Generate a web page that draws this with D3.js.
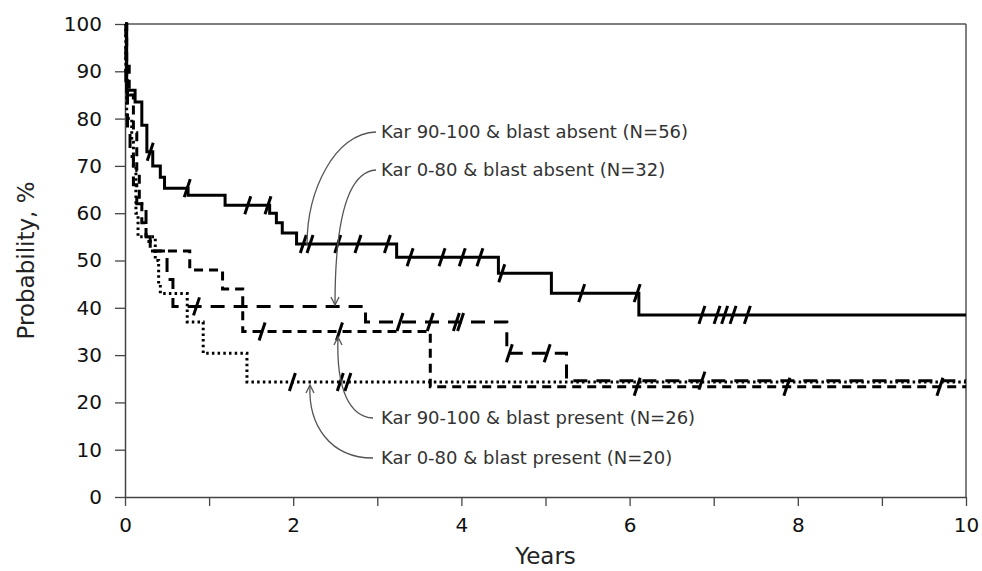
<!DOCTYPE html>
<html>
<head>
<meta charset="utf-8">
<script src="https://cdn.jsdelivr.net/npm/d3@7/dist/d3.min.js"></script>
<style>
html,body{margin:0;padding:0;background:#fff;}
svg{display:block;}
</style>
</head>
<body>
<svg id="chart" width="982" height="571"></svg>
<script>
// ---- data ----
const xTicks = [0,1,2,3,4,5,6,7,8,9,10];
const xTickLabels = ["0","","2","","4","","6","","8","","10"];
const yTicks = [0,10,20,30,40,50,60,70,80,90,100];

// Kar 90-100 & blast absent (N=56) - solid
const s1Times = [0, 0.02, 0.12, 0.2, 0.26, 0.33, 0.42, 0.47, 0.75, 1.19, 1.72, 1.8, 1.87, 2.04, 3.23, 4.44, 5.07, 6.11];
const s1Surv  = [100, 86, 83.5, 78.6, 73, 70, 67.6, 65.3, 63.8, 61.7, 60, 58, 55.8, 53.5, 50.7, 47.3, 43.1, 38.5];
const s1Cens  = [0.3, 0.74, 1.46, 1.7, 2.12, 2.2, 2.53, 2.77, 3.12, 3.39, 3.77, 4.01, 4.22, 4.48, 5.43, 6.09, 6.86, 7.04, 7.13, 7.23, 7.4];

// Kar 0-80 & blast absent (N=32) - long dash
const s2Times = [0, 0.01, 0.03, 0.06, 0.1, 0.14, 0.25, 0.3, 0.5, 0.57, 2.86, 4.54, 5.25];
const s2Surv  = [100, 88, 78, 72, 66, 62, 55, 52, 46, 40.3, 37.0, 30.4, 24.6];
const s2Cens  = [0.85, 3.27, 3.63, 3.94, 3.99, 4.57, 5.02, 6.86];

// Kar 90-100 & blast present (N=26) - dash
const s3Times = [0, 0.02, 0.05, 0.1, 0.14, 0.17, 0.2, 0.25, 0.3, 0.77, 1.16, 1.4, 3.63];
const s3Surv  = [100, 92, 85, 77, 69, 62, 58, 54, 52, 48, 44, 35, 23.3];
const s3Cens  = [1.63, 2.55, 6.09, 7.87, 9.69];

// Kar 0-80 & blast present (N=20) - dotted
const s4Times = [0, 0.01, 0.02, 0.08, 0.1, 0.13, 0.155, 0.36, 0.4, 0.42, 0.74, 0.93, 1.45];
const s4Surv  = [100, 90, 80, 75, 70, 60, 55, 50, 45, 43, 37, 30.4, 24.3];
const s4Cens  = [1.99, 2.56, 2.65];

const seriesNames = [
  "Kar 90-100 & blast absent (N=56)",
  "Kar 0-80 & blast absent (N=32)",
  "Kar 90-100 & blast present (N=26)",
  "Kar 0-80 & blast present (N=20)"
];

// ---- layout ----
const svg = d3.select("#chart");
const x = d3.scaleLinear().domain([0,10]).range([125,966]);
const y = d3.scaleLinear().domain([0,100]).range([497,24]);
const font = "'DejaVu Sans', Verdana, sans-serif";

// frame (top & right)
svg.append("line").attr("x1",x(0)).attr("x2",x(10)).attr("y1",y(100)).attr("y2",y(100))
  .attr("stroke","#555").attr("stroke-width",1.5);
svg.append("line").attr("x1",x(10)).attr("x2",x(10)).attr("y1",y(100)).attr("y2",y(0))
  .attr("stroke","#555").attr("stroke-width",1.5);

// axes
const xAxis = d3.axisBottom(x).tickValues(xTicks).tickSize(9).tickSizeOuter(0)
  .tickFormat((d,i)=>xTickLabels[i]);
const gx = svg.append("g").attr("transform",`translate(0,${y(0)})`).call(xAxis);
const yAxis = d3.axisLeft(y).tickValues(yTicks).tickSize(10).tickSizeOuter(0);
const gy = svg.append("g").attr("transform",`translate(${x(0)},0)`).call(yAxis);
[gx,gy].forEach(g=>{
  g.select(".domain").attr("stroke","#444").attr("stroke-width",1.5);
  g.selectAll(".tick line").attr("stroke","#444").attr("stroke-width",1.3);
  g.selectAll(".tick text").attr("fill","#111").style("font-family",font).style("font-size","20px");
});
gx.selectAll(".tick text").attr("dy","1.15em");
gy.selectAll(".tick text").attr("dx","-0.5em");

svg.append("text").attr("x",(x(0)+x(10))/2).attr("y",564).attr("text-anchor","middle")
  .style("font-family",font).style("font-size","23px").attr("fill","#222").text("Years");
svg.append("text").attr("transform",`translate(34,${(y(0)+y(100))/2}) rotate(-90)`)
  .attr("text-anchor","middle").style("font-family",font).style("font-size","23px")
  .attr("fill","#222").text("Probability, %");

// curves
function stepData(times, surv){
  const pts = times.map((t,i)=>[t,surv[i]]);
  pts.push([10, surv[surv.length-1]]);
  return pts;
}
function survAt(times, surv, t){
  const i = d3.bisectRight(times, t) - 1;
  return surv[Math.max(0,i)];
}
const line = d3.line().x(d=>x(d[0])).y(d=>y(d[1])).curve(d3.curveStepAfter);

const series = [
  {t:s1Times, s:s1Surv, c:s1Cens, dash:null, cap:"butt"},
  {t:s2Times, s:s2Surv, c:s2Cens, dash:"14,9", cap:"butt"},
  {t:s3Times, s:s3Surv, c:s3Cens, dash:"9,6", cap:"butt"},
  {t:s4Times, s:s4Surv, c:s4Cens, dash:"2.5,3.2", cap:"butt"}
];

series.forEach(sr=>{
  svg.append("path").datum(stepData(sr.t, sr.s)).attr("d",line)
    .attr("fill","none").attr("stroke","#000").attr("stroke-width",3)
    .attr("stroke-linecap",sr.cap).attr("stroke-dasharray",sr.dash);
  svg.append("g").selectAll("line").data(sr.c).join("line")
    .attr("x1",d=>x(d)-3).attr("x2",d=>x(d)+3)
    .attr("y1",d=>y(survAt(sr.t,sr.s,d))+9).attr("y2",d=>y(survAt(sr.t,sr.s,d))-9)
    .attr("stroke","#000").attr("stroke-width",3);
});

// annotations
const ann = [
  {label:seriesNames[0], tx:381, ty:138, path:"M376,132 C335,133 307,190 307,245"},
  {label:seriesNames[1], tx:381, ty:176, path:"M376,170 C342,172 335,240 335,305"},
  {label:seriesNames[2], tx:381, ty:424, path:"M373,418 C350,417 336,390 338,337"},
  {label:seriesNames[3], tx:381, ty:464, path:"M373,458 C330,458 308,425 310,385"}
];
ann.forEach(a=>{
  svg.append("path").attr("d",a.path).attr("fill","none").attr("stroke","#555").attr("stroke-width",1.3);
  svg.append("text").attr("x",a.tx).attr("y",a.ty).style("font-family",font).style("font-size","18px")
    .attr("fill","#333").text(a.label);
});
// arrowheads
function arrowHead(px,py,dir){
  const s = dir==="down" ? -1 : 1;
  svg.append("path").attr("d",`M${px-4},${py+s*8} L${px},${py} L${px+4},${py+s*8}`)
    .attr("fill","none").attr("stroke","#555").attr("stroke-width",1.3);
}
arrowHead(335,305,"down");
arrowHead(338,337,"up");
arrowHead(310,385,"up");
</script>
</body>
</html>
